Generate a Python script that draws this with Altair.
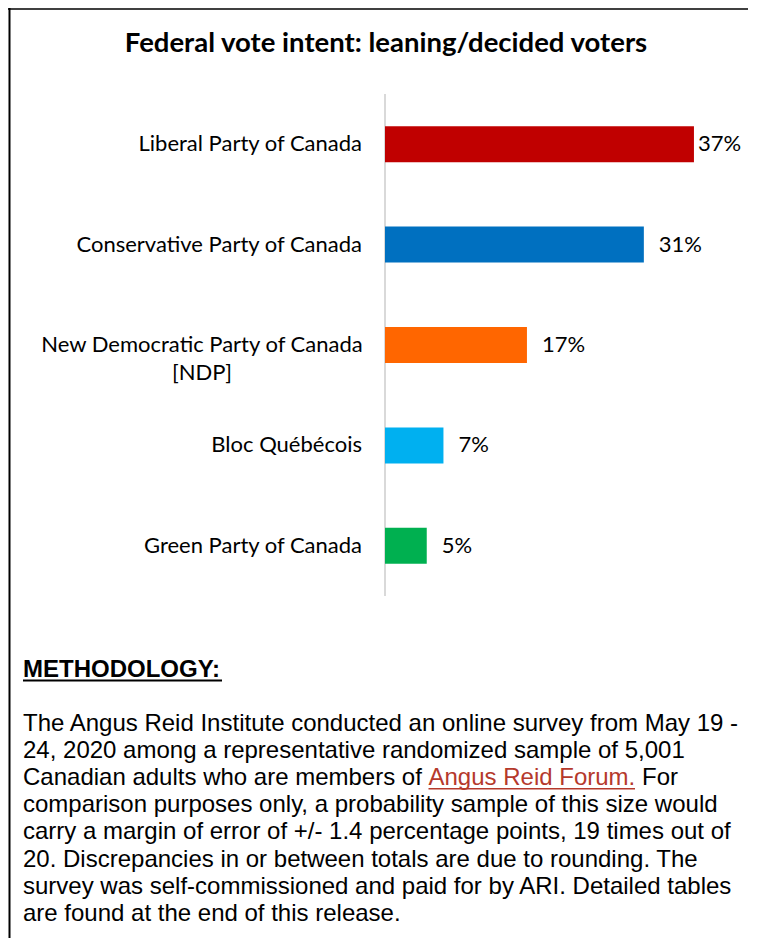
import altair as alt
import pandas as pd

# ---- data ----
parties = [
    "Liberal Party of Canada",
    "Conservative Party of Canada",
    "New Democratic Party of Canada [NDP]",
    "Bloc Québécois",
    "Green Party of Canada",
]
label_text = [
    "Liberal Party of Canada",
    "Conservative Party of Canada",
    "New Democratic Party of Canada\n[NDP]",
    "Bloc Québécois",
    "Green Party of Canada",
]
values = [37, 31, 17, 7, 5]
bar_colors = ["#C00000", "#0070C0", "#FF6600", "#00B0F0", "#00B050"]

title_text = "Federal vote intent: leaning/decided voters"
method_heading = "METHODOLOGY:"
method_lines = [
    "The Angus Reid Institute conducted an online survey from May 19 -",
    "24, 2020 among a representative randomized sample of 5,001",
    "Canadian adults who are members of",
    "comparison purposes only, a probability sample of this size would",
    "carry a margin of error of +/- 1.4 percentage points, 19 times out of",
    "20. Discrepancies in or between totals are due to rounding. The",
    "survey was self-commissioned and paid for by ARI. Detailed tables",
    "are found at the end of this release.",
]
link_text = "Angus Reid Forum."
after_link = "For"

df = pd.DataFrame({
    "party": parties,
    "label": label_text,
    "value": values,
    "color": bar_colors,
    "pct": [f"{v}%" for v in values],
})

# ---- layout ----
W, H = 334, 502
PAD_L, PAD_T = 377, 86
TOTAL_W, TOTAL_H = 740, 930
PAD_R = TOTAL_W - PAD_L - W
PAD_B = TOTAL_H - PAD_T - H

LABEL_FONT = "Lato"
BODY_FONT = "Liberation Sans"
LINE_H = 27.1
BODY_Y = 637

y_enc = alt.Y("party:N", sort=parties,
              scale=alt.Scale(paddingInner=0, paddingOuter=0), axis=None)
x_enc = alt.X("value:Q", scale=alt.Scale(domain=[0, 40]), axis=None)

base = alt.Chart(df)
one = alt.Chart(pd.DataFrame({"k": [0]}))

axis_line = one.mark_rule(color="#D9D9D9", strokeWidth=2).encode(
    x=alt.value(0), y=alt.value(0), y2=alt.value(H))

bars = base.mark_bar(size=36).encode(
    x=x_enc, y=y_enc, color=alt.Color("color:N", scale=None))

val_first = base.transform_filter(alt.datum.party == parties[0]).mark_text(
    align="left", baseline="middle", dx=4, font=LABEL_FONT, fontSize=22, color="#000000"
).encode(x=x_enc, y=y_enc, text="pct:N")
val_rest = base.transform_filter(alt.datum.party != parties[0]).mark_text(
    align="left", baseline="middle", dx=15, font=LABEL_FONT, fontSize=22, color="#000000"
).encode(x=x_enc, y=y_enc, text="pct:N")

cat_labels = base.transform_filter(alt.datum.party != parties[2]).mark_text(
    align="right", baseline="middle", font=LABEL_FONT, fontSize=22, color="#000000"
).encode(x=alt.value(-23), y=y_enc, text="label:N")
cat_ndp = base.transform_filter(alt.datum.party == parties[2]).mark_text(
    align="center", baseline="middle", lineBreak="\n", lineHeight=28,
    font=LABEL_FONT, fontSize=22, color="#000000"
).encode(x=alt.value(-183), y=y_enc, text="label:N")

title = alt.Chart(pd.DataFrame({"t": [title_text]})).mark_text(
    align="center", baseline="alphabetic", font=LABEL_FONT, fontSize=27.5,
    fontWeight="bold", color="#000000"
).encode(x=alt.value(1), y=alt.value(-42), text="t:N")

heading = alt.Chart(pd.DataFrame({"t": [method_heading]})).mark_text(
    align="left", baseline="alphabetic", font=BODY_FONT, fontSize=24,
    fontWeight="bold", color="#000000"
).encode(x=alt.value(-362), y=alt.value(583), text="t:N")
heading_ul = one.mark_rule(color="#000000", strokeWidth=2).encode(
    x=alt.value(-362), x2=alt.value(-163), y=alt.value(586.5))

body = alt.Chart(pd.DataFrame({"t": ["\n".join(method_lines)]})).mark_text(
    align="left", baseline="alphabetic", font=BODY_FONT, fontSize=24,
    lineBreak="\n", lineHeight=LINE_H, color="#000000"
).encode(x=alt.value(-362), y=alt.value(BODY_Y), text="t:N")

link_y = BODY_Y + 2 * LINE_H
link = alt.Chart(pd.DataFrame({"t": [link_text]})).mark_text(
    align="left", baseline="alphabetic", font=BODY_FONT, fontSize=24,
    color="#B5392C"
).encode(x=alt.value(43.5), y=alt.value(link_y), text="t:N")
link_ul = one.mark_rule(color="#B5392C", strokeWidth=1.5).encode(
    x=alt.value(43.5), x2=alt.value(250), y=alt.value(link_y + 3.6))
after = alt.Chart(pd.DataFrame({"t": [after_link]})).mark_text(
    align="left", baseline="alphabetic", font=BODY_FONT, fontSize=24,
    color="#000000"
).encode(x=alt.value(257), y=alt.value(link_y), text="t:N")

border_top = one.mark_rule(color="#000000", strokeWidth=1.5).encode(
    x=alt.value(-PAD_L), x2=alt.value(TOTAL_W - PAD_L), y=alt.value(-PAD_T + 1))
border_left = one.mark_rule(color="#000000", strokeWidth=2).encode(
    x=alt.value(-PAD_L + 1.5), y=alt.value(-PAD_T), y2=alt.value(TOTAL_H - PAD_T))

chart = alt.layer(
    axis_line, bars, val_first, val_rest, cat_labels, cat_ndp, title,
    heading, heading_ul, body, link, link_ul, after, border_top, border_left
).properties(
    width=W, height=H,
    autosize=alt.AutoSizeParams(type="none"),
    padding={"left": PAD_L, "top": PAD_T, "right": PAD_R, "bottom": PAD_B},
    background="#FFFFFF",
).configure_view(stroke=None)

chart.save("out.html", embed_options={"renderer": "svg", "actions": False})
